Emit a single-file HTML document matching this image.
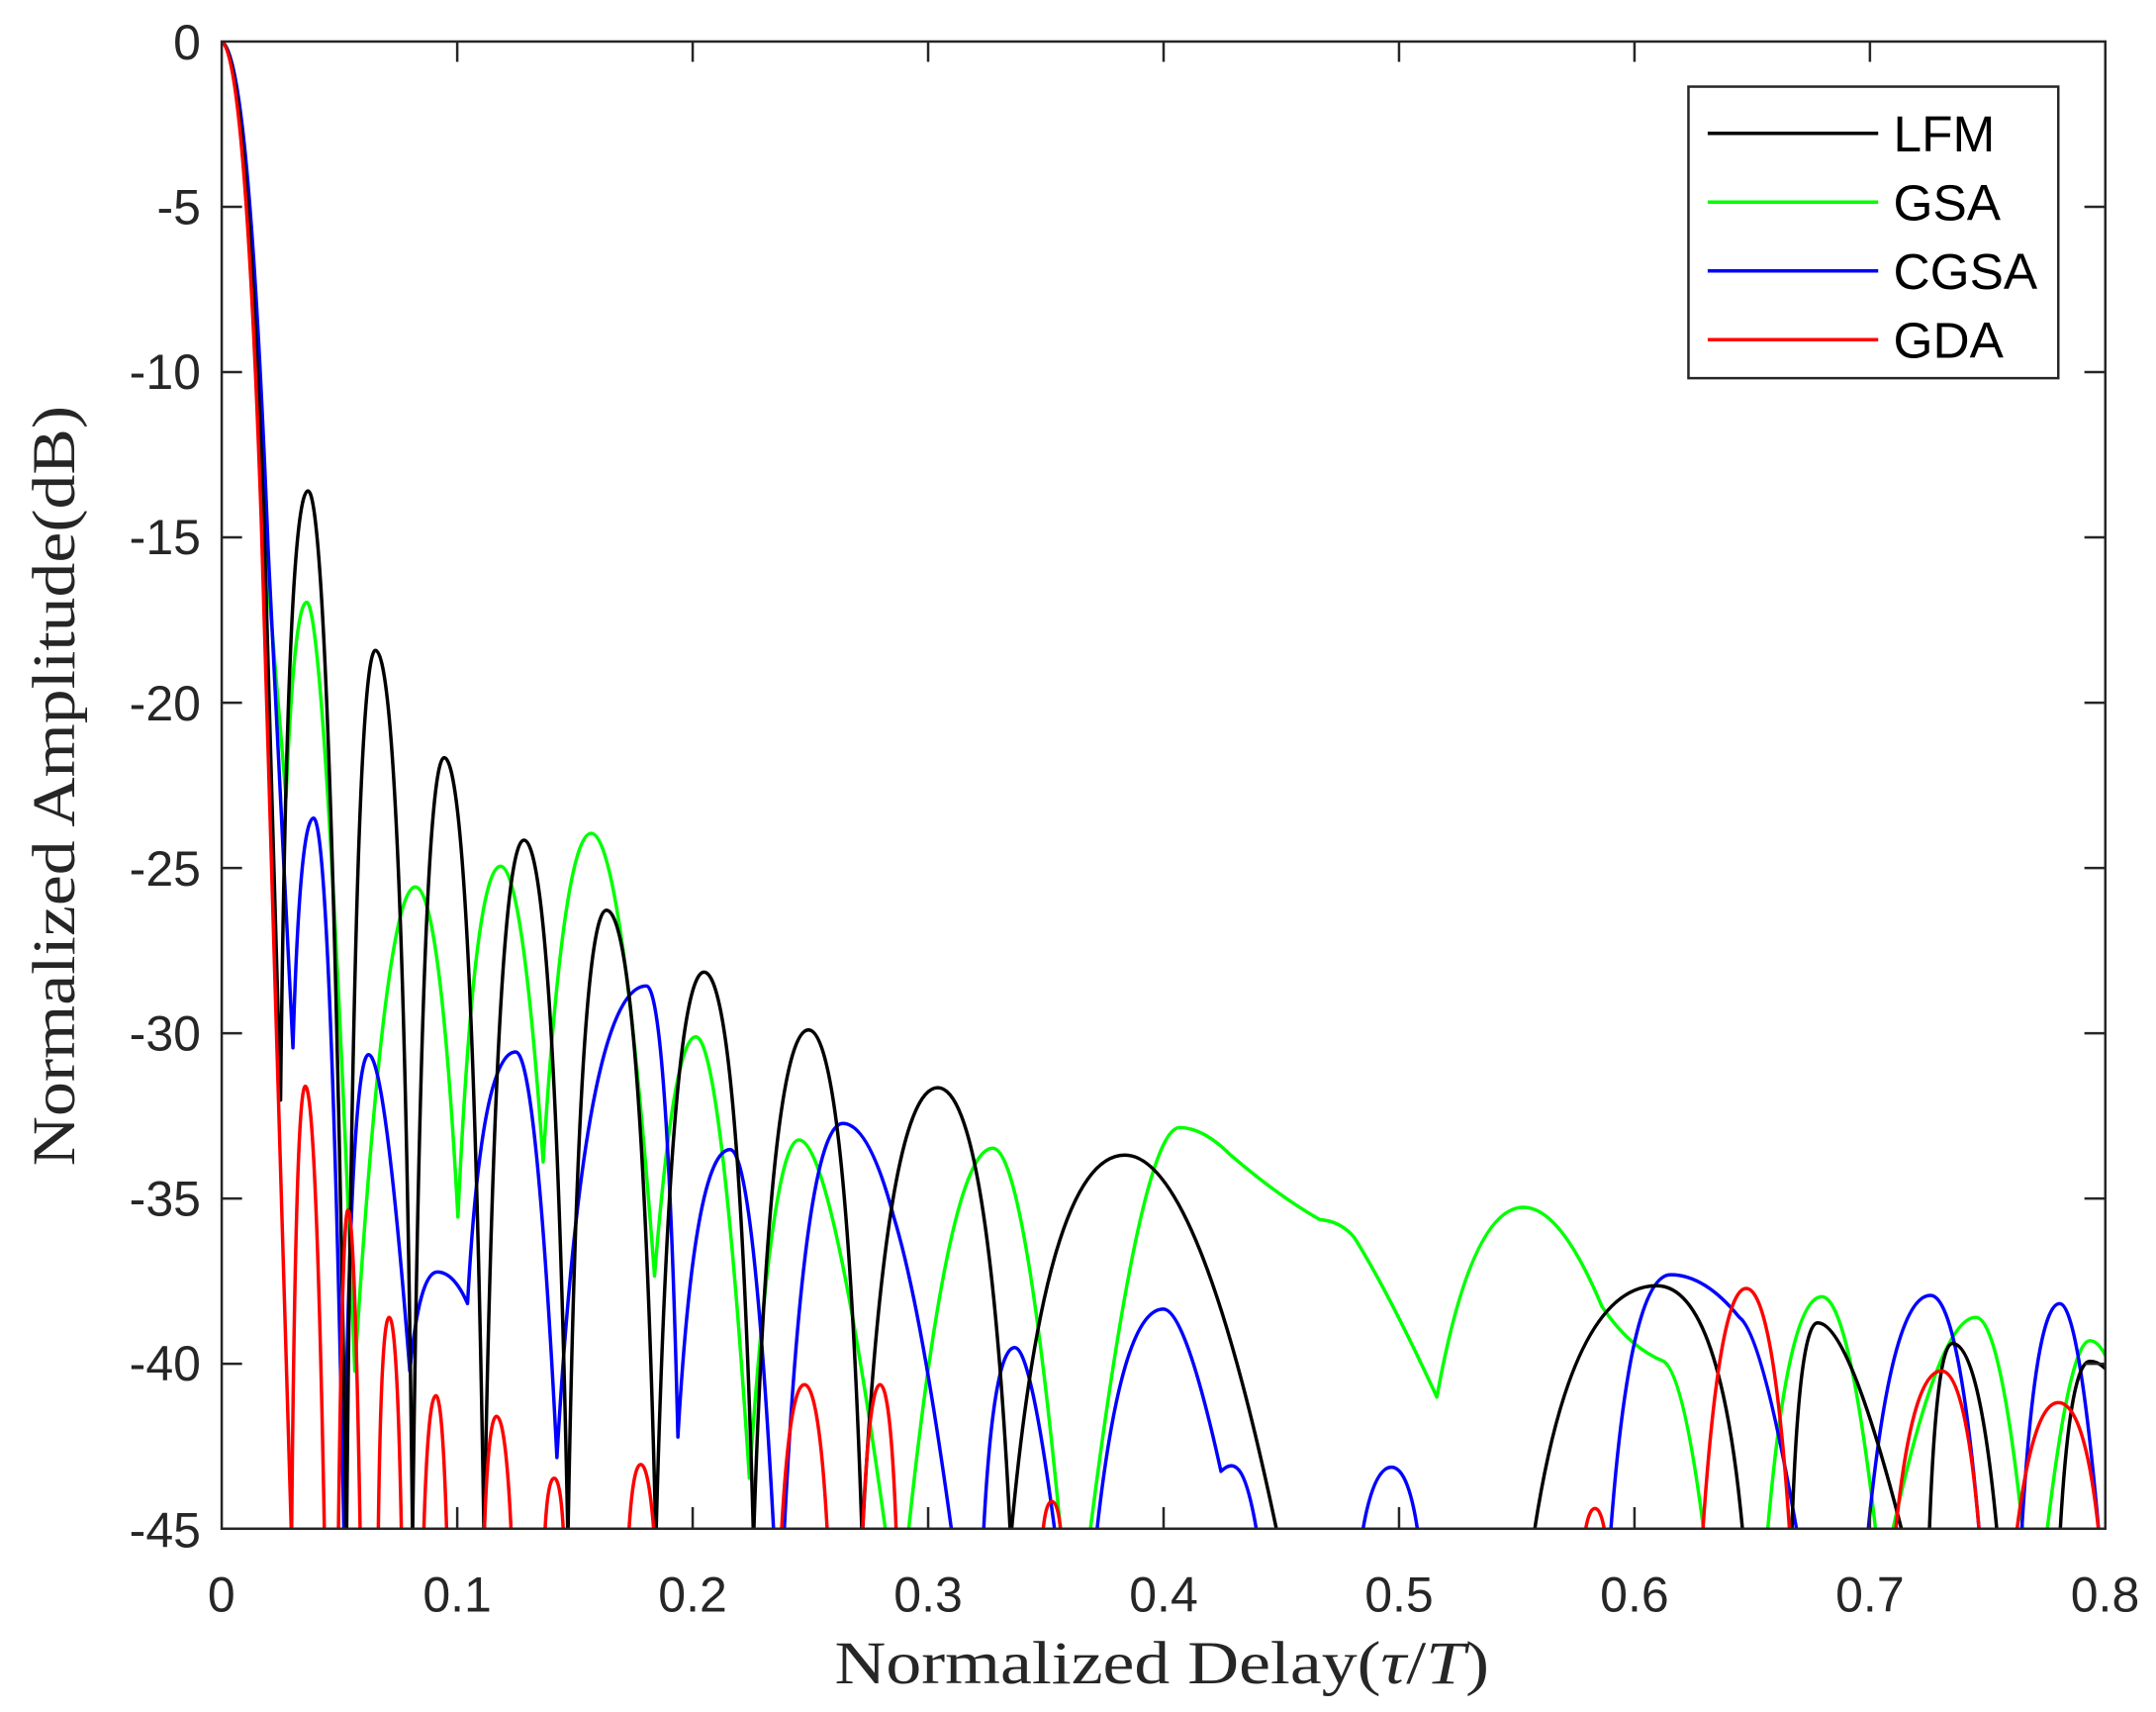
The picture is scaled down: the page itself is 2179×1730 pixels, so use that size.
<!DOCTYPE html>
<html><head><meta charset="utf-8"><style>
html,body{margin:0;padding:0;background:#fff}
svg{display:block}
</style></head><body>
<svg width="2179" height="1730" viewBox="0 0 1568 1245" xmlns="http://www.w3.org/2000/svg">
<rect x="0" y="0" width="1568" height="1245" fill="#fff"/>
<defs><clipPath id="c"><rect x="161" y="30" width="1370" height="1081.5"/></clipPath></defs>
<g clip-path="url(#c)" fill="none" stroke-width="2.5" stroke-linejoin="round">
<!-- GSA green -->
<path stroke="#00ff00" d="M161,30 C172,36 182,120 193,400 L208,580 Q214,438 223,438 Q236,438 258,997 Q280,645 302,645 Q320,645 333,885 Q345,630 364,630 Q380,630 395,845 Q410,606 430,606 Q452,606 476,928 Q490,754 506,754 Q524,754 545,1075 Q562,829 581,829 Q605,829 645,1120"/>
<path stroke="#00ff00" d="M660,1120 Q690,835 722,835 Q745,835 772,1120"/>
<path stroke="#00ff00" d="M792,1120 Q830,820 858,820 Q875,820 895,840 Q930,870 960,887 Q975,888 985,900 Q1010,940 1045,1016 Q1070,878 1108,878 Q1135,878 1165,950 Q1185,980 1210,990 Q1225,1000 1240,1120"/>
<path stroke="#00ff00" d="M1285,1120 Q1300,943 1325,943 Q1345,943 1365,1120"/>
<path stroke="#00ff00" d="M1375,1120 Q1410,958 1437,958 Q1455,958 1472,1120"/>
<path stroke="#00ff00" d="M1488,1120 Q1505,975 1520,975 Q1528,975 1535,995"/>
<!-- CGSA blue -->
<path stroke="#0000ff" d="M161,30 C173,36 184,120 195,400 L213,762 Q218,595 228,595 Q240,595 250,1111 Q255,767 268,767 Q280,767 298,997 Q305,925 318,925 Q330,925 340,948 Q350,765 375,765 Q390,765 405,1060 Q425,717 470,717 Q485,717 493,1045 Q505,836 531,836 Q548,836 563,1120"/>
<path stroke="#0000ff" d="M570,1120 Q585,817 613,817 Q632,817 650,885 Q670,950 693,1120"/>
<path stroke="#0000ff" d="M715,1120 Q722,980 738,980 Q750,980 768,1120"/>
<path stroke="#0000ff" d="M797,1120 Q815,952 846,952 Q862,952 888,1070 Q895,1063 900,1068 Q908,1075 915,1120"/>
<path stroke="#0000ff" d="M990,1120 Q998,1067 1012,1067 Q1025,1067 1032,1120"/>
<path stroke="#0000ff" d="M1171,1120 Q1185,927 1215,927 Q1240,927 1265,958 Q1282,970 1308,1120"/>
<path stroke="#0000ff" d="M1358,1120 Q1375,942 1404,942 Q1425,942 1440,1120"/>
<path stroke="#0000ff" d="M1470,1120 Q1480,948 1498,948 Q1512,948 1527,1120"/>
<!-- LFM black -->
<path stroke="#000" d="M161,30 C172,36 182,120 192,380 L204,800 Q209,357 224,357 Q240,357 252,1120"/>
<path stroke="#000" d="M252,1120 Q258,473 273,473 Q293,473 300,1120"/>
<path stroke="#000" d="M300,1120 Q307,551 323,551 Q343,551 352,1120"/>
<path stroke="#000" d="M352,1120 Q361,611 381,611 Q403,611 413,1120"/>
<path stroke="#000" d="M413,1120 Q421,662 441,662 Q466,662 477,1120"/>
<path stroke="#000" d="M477,1120 Q488,707 512,707 Q537,707 548,1120"/>
<path stroke="#000" d="M548,1120 Q560,749 588,749 Q615,749 627,1120"/>
<path stroke="#000" d="M627,1120 Q644,791 682,791 Q719,791 735,1120"/>
<path stroke="#000" d="M735,1120 Q760,840 818,840 Q872,840 930,1120"/>
<path stroke="#000" d="M1115,1120 Q1142,935 1205,935 Q1252,935 1268,1120"/>
<path stroke="#000" d="M1303,1120 Q1308,962 1322,962 Q1345,962 1385,1120"/>
<path stroke="#000" d="M1403,1120 Q1408,977 1420,977 Q1440,977 1453,1120"/>
<path stroke="#000" d="M1498,1120 Q1505,990 1520,990 Q1528,990 1535,1000"/>
<!-- GDA red -->
<path stroke="#ff0000" d="M161,30 C171,36 181,120 190,380 L212,1120"/>
<path stroke="#ff0000" d="M212,1120 Q215,790 222,790 Q230,790 236,1120"/>
<path stroke="#ff0000" d="M246,1120 Q249,880 253,880 Q258,880 262,1120"/>
<path stroke="#ff0000" d="M275,1120 Q277,958 283,958 Q289,958 292,1120"/>
<path stroke="#ff0000" d="M308,1120 Q311,1015 317,1015 Q322,1015 325,1120"/>
<path stroke="#ff0000" d="M352,1120 Q355,1030 361,1030 Q368,1030 372,1120"/>
<path stroke="#ff0000" d="M396,1120 Q398,1075 403,1075 Q408,1075 410,1120"/>
<path stroke="#ff0000" d="M457,1120 Q460,1065 466,1065 Q472,1065 476,1120"/>
<path stroke="#ff0000" d="M568,1120 Q574,1007 585,1007 Q596,1007 602,1120"/>
<path stroke="#ff0000" d="M627,1120 Q632,1007 640,1007 Q648,1007 652,1120"/>
<path stroke="#ff0000" d="M758,1120 Q760,1092 765,1092 Q770,1092 772,1120"/>
<path stroke="#ff0000" d="M1152,1120 Q1155,1097 1160,1097 Q1165,1097 1168,1120"/>
<path stroke="#ff0000" d="M1238,1120 Q1250,937 1270,937 Q1290,937 1302,1120"/>
<path stroke="#ff0000" d="M1378,1120 Q1390,997 1412,997 Q1430,997 1440,1120"/>
<path stroke="#ff0000" d="M1466,1120 Q1478,1020 1497,1020 Q1517,1020 1527,1120"/>
</g>
<!-- axes box -->
<rect x="161.2" y="30.2" width="1370" height="1081.5" fill="none" stroke="#262626" stroke-width="1.8"/>
<g stroke="#262626" stroke-width="1.8">
<path d="M161,150.4h15M161,270.6h15M161,390.8h15M161,511h15M161,631.2h15M161,751.4h15M161,871.6h15M161,991.8h15"/>
<path d="M1531,150.4h-15M1531,270.6h-15M1531,390.8h-15M1531,511h-15M1531,631.2h-15M1531,751.4h-15M1531,871.6h-15M1531,991.8h-15"/>
<path d="M332.5,1111v-15M503.75,1111v-15M675,1111v-15M846.25,1111v-15M1017.5,1111v-15M1188.75,1111v-15M1360,1111v-15"/>
<path d="M332.5,30v15M503.75,30v15M675,30v15M846.25,30v15M1017.5,30v15M1188.75,30v15M1360,30v15"/>
</g>
<g font-family="Liberation Sans, sans-serif" font-size="36" fill="#262626">
<g text-anchor="end">
<text x="146" y="43">0</text>
<text x="146" y="163">-5</text>
<text x="146" y="283">-10</text>
<text x="146" y="403">-15</text>
<text x="146" y="524">-20</text>
<text x="146" y="644">-25</text>
<text x="146" y="764">-30</text>
<text x="146" y="884">-35</text>
<text x="146" y="1004">-40</text>
<text x="146" y="1125">-45</text>
</g>
<g text-anchor="middle">
<text x="161" y="1172">0</text>
<text x="332.5" y="1172">0.1</text>
<text x="503.75" y="1172">0.2</text>
<text x="675" y="1172">0.3</text>
<text x="846.25" y="1172">0.4</text>
<text x="1017.5" y="1172">0.5</text>
<text x="1188.75" y="1172">0.6</text>
<text x="1360" y="1172">0.7</text>
<text x="1531" y="1172">0.8</text>
</g>
</g>
<text x="607" y="1224" textLength="476" lengthAdjust="spacingAndGlyphs" font-family="Liberation Serif, serif" font-size="44" fill="#262626">Normalized Delay(<tspan font-style="italic">τ</tspan>/<tspan font-style="italic">T</tspan>)</text>
<text transform="translate(54,848) rotate(-90)" textLength="553" lengthAdjust="spacingAndGlyphs" font-family="Liberation Serif, serif" font-size="44" fill="#262626">Normalized Amplitude(dB)</text>
<!-- legend -->
<rect x="1228" y="63" width="269" height="212" fill="#fff" stroke="#262626" stroke-width="1.8"/>
<g stroke-width="2.5">
<path d="M1242,97h124" stroke="#000"/>
<path d="M1242,147h124" stroke="#00ff00"/>
<path d="M1242,197h124" stroke="#0000ff"/>
<path d="M1242,247h124" stroke="#ff0000"/>
</g>
<g font-family="Liberation Sans, sans-serif" font-size="37" fill="#000">
<text x="1377" y="110">LFM</text>
<text x="1377" y="160">GSA</text>
<text x="1377" y="210">CGSA</text>
<text x="1377" y="260">GDA</text>
</g>
</svg>
</body></html>
